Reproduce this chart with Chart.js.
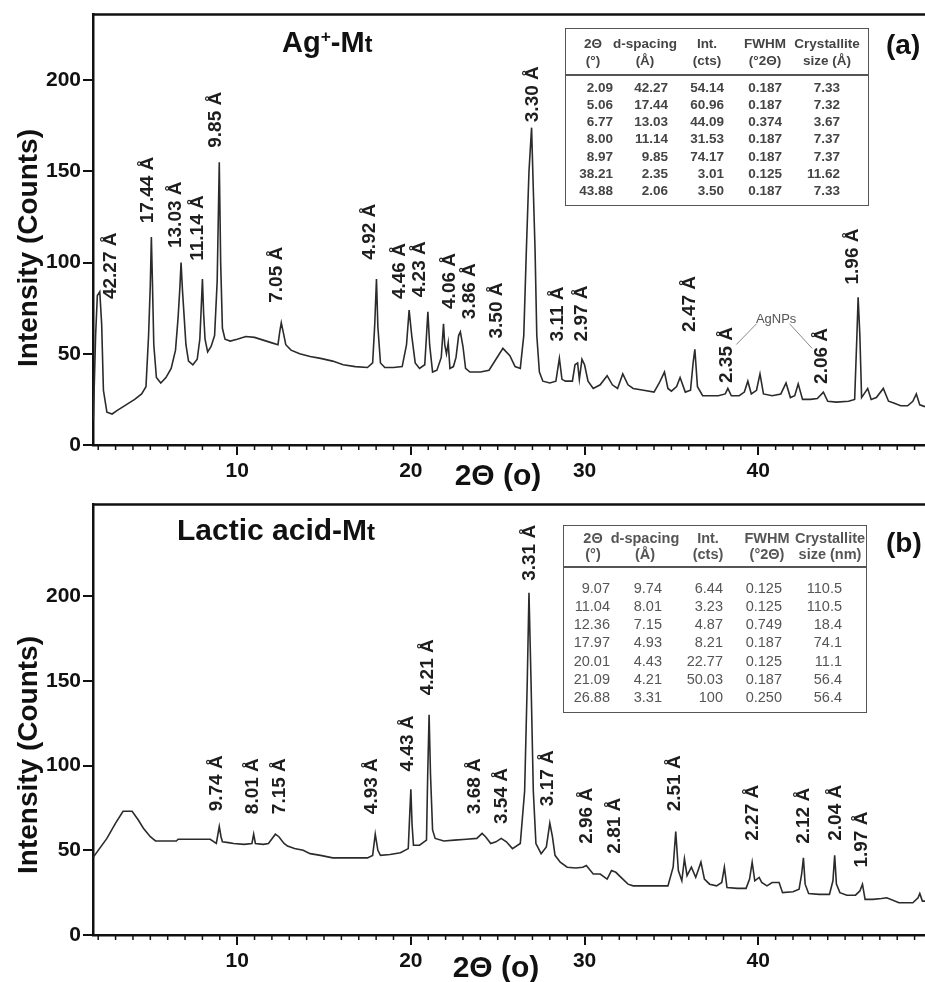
<!DOCTYPE html>
<html>
<head>
<meta charset="utf-8">
<script src="https://cdn.jsdelivr.net/npm/chart.js@4.4.1/dist/chart.umd.min.js"></script>
<style>
  body { margin: 0; background: #fff; font-family: "Liberation Sans", Arial, sans-serif; }
  #wrap { position: relative; width: 925px; height: 982px; overflow: hidden; background: #fff; }
  .panel { position: absolute; left: 0; width: 925px; }
  .txt { position: absolute; white-space: nowrap; color: #111; line-height: 1; }
  .b { font-weight: bold; }
  .box { position: absolute; border: 1.5px solid #555; box-sizing: border-box; }
  .rule { position: absolute; height: 2px; background: #555; }
</style>
</head>
<body>
<div id="wrap">
  <div class="panel" style="top:0;height:490px"><canvas id="chartA" width="925" height="490"></canvas></div>
  <div class="panel" style="top:490px;height:492px"><canvas id="chartB" width="925" height="492"></canvas></div>
</div>
<script>
// pattern (a) Ag+-Mt : 2theta (deg) and counts
const thetaA = [1.72, 1.85, 1.95, 2.09, 2.2, 2.3, 2.5, 2.8, 3.1, 3.6, 4.1, 4.5, 4.75, 4.9, 5.0, 5.06, 5.12, 5.2, 5.35, 5.6,
  5.9, 6.2, 6.45, 6.6, 6.7, 6.77, 6.85, 6.95, 7.05, 7.2, 7.45, 7.7, 7.85, 7.93, 8.0, 8.07, 8.15, 8.3, 8.5, 8.7,
  8.85, 8.97, 9.05, 9.15, 9.3, 9.6, 10.0, 10.5, 11.0, 11.5, 12.0, 12.35, 12.45, 12.54, 12.65, 12.8, 13.1, 13.6, 14.2, 14.8,
  15.5, 16.1, 16.8, 17.5, 17.8, 17.92, 18.02, 18.1, 18.25, 18.5, 19.0, 19.5, 19.75, 19.9, 20.05, 20.25, 20.5, 20.8, 20.9, 20.98,
  21.08, 21.25, 21.5, 21.75, 21.88, 21.95, 22.05, 22.15, 22.25, 22.45, 22.6, 22.75, 22.85, 23.0, 23.15, 23.4, 24.0, 24.5, 24.9, 25.3,
  25.7, 26.0, 26.3, 26.5, 26.65, 26.8, 26.95, 27.05, 27.15, 27.25, 27.4, 27.6, 28.0, 28.35, 28.55, 28.7, 28.9, 29.3, 29.45, 29.6,
  29.7, 29.85, 30.0, 30.2, 30.5, 30.9, 31.3, 31.6, 31.9, 32.2, 32.5, 32.8, 33.4, 34.0, 34.3, 34.6, 34.8, 35.0, 35.3, 35.5,
  35.8, 36.1, 36.25, 36.35, 36.5, 36.8, 37.2, 37.7, 38.1, 38.25, 38.45, 38.9, 39.2, 39.4, 39.6, 39.9, 40.1, 40.3, 40.8, 41.3,
  41.6, 41.85, 42.1, 42.3, 42.55, 43.0, 43.4, 43.75, 44.0, 44.5, 45.2, 45.55, 45.68, 45.75, 45.85, 45.95, 46.3, 46.5, 46.8, 47.2,
  47.5, 47.8, 48.2, 48.6, 48.9, 49.1, 49.3, 49.6];
const countsA = [14, 60, 82, 84, 66, 30, 18, 17, 19, 22, 25, 28, 32, 60, 88, 114, 90, 55, 37, 34,
  37, 42, 52, 70, 86, 100, 85, 70, 55, 46, 44, 47, 58, 75, 91, 72, 58, 51, 54, 60,
  90, 155, 100, 64, 58, 57, 58, 59.5, 59, 57.5, 56, 55, 62, 67, 62, 55, 52, 50, 48.5, 47.5,
  46, 44, 43, 42.5, 45, 66, 91, 65, 45, 42.5, 42.5, 43, 55, 74, 60, 45, 42, 44, 60, 73,
  55, 40, 41, 48, 66.5, 55, 50, 56, 42, 43, 48, 60, 62, 54, 42, 40, 40, 41, 47, 53,
  49, 43, 42, 60, 107, 150, 174, 140, 107, 60, 40, 35, 34, 35, 47.5, 36, 35, 35, 44, 45,
  36, 47, 44, 35, 31, 33, 38, 33, 31, 39, 33, 31, 30, 29, 34, 40, 31, 29.5, 32, 37,
  29, 30, 45, 52.5, 32, 27, 27, 27, 28, 31, 27, 27, 29, 35, 28, 30, 39, 28, 27, 28,
  34, 26, 27, 33.5, 25, 25, 25.5, 29, 24, 23.5, 24, 25, 60, 81, 60, 26, 31, 25, 26, 31,
  24, 23, 21.5, 21.5, 24, 28, 22, 21];

// pattern (b) Lactic acid-Mt
const thetaB = [1.72, 2.5, 3.0, 3.43, 3.95, 4.3, 4.6, 5.0, 5.3, 6.0, 6.5, 6.6, 7.5, 8.45, 8.8, 8.97, 9.07, 9.15, 9.5, 9.8,
  10.4, 10.85, 10.95, 11.05, 11.5, 11.8, 12.2, 12.4, 12.7, 12.9, 13.3, 13.8, 14.2, 14.8, 15.5, 16.5, 17.5, 17.8, 17.95, 18.1,
  18.25, 18.8, 19.4, 19.85, 19.93, 20.0, 20.07, 20.15, 20.5, 20.9, 20.97, 21.05, 21.13, 21.25, 21.4, 21.9, 22.5, 23.2, 23.8, 24.1,
  24.3, 24.6, 24.9, 25.2, 25.5, 25.85, 26.3, 26.55, 26.7, 26.8, 26.92, 27.05, 27.2, 27.5, 27.8, 28.0, 28.15, 28.3, 28.6, 29.0,
  29.5, 29.9, 30.1, 30.5, 30.9, 31.3, 31.55, 31.8, 32.1, 32.5, 32.8, 33.8, 34.8, 35.1, 35.25, 35.4, 35.6, 35.75, 35.9, 36.15,
  36.4, 36.7, 36.9, 37.2, 37.6, 37.9, 38.05, 38.2, 38.8, 39.3, 39.5, 39.65, 39.8, 40.05, 40.2, 40.5, 40.8, 41.2, 41.4, 42.0,
  42.35, 42.5, 42.6, 42.7, 42.9, 43.5, 44.1, 44.3, 44.4, 44.5, 44.7, 45.1, 45.6, 45.85, 46.0, 46.15, 46.6, 47.1, 47.4, 48.1,
  48.9, 49.2, 49.3, 49.45, 49.6];
const countsB = [46, 57, 66, 73, 73, 68, 63, 58, 55.5, 55.5, 55.5, 56.5, 56.5, 56.5, 54, 64, 58, 55, 54.5, 54,
  53.5, 54, 59.5, 54, 53.5, 54, 59.5, 58, 54, 52.5, 51, 50, 48, 47, 45.5, 45.5, 45.5, 47, 59.5, 50,
  47, 47.5, 48.5, 51, 70, 86, 65, 53, 53, 56, 95, 130, 95, 62, 57, 55.5, 56, 56.5, 57, 60,
  58, 54, 55, 57, 55, 51, 54, 85, 149, 202, 149, 85, 54, 48, 52, 66, 58, 47, 43, 40,
  39.5, 40, 41, 36, 36, 33, 38, 37, 34, 30, 29, 29, 29, 40, 61, 38, 32, 45, 35, 40,
  34, 43, 33, 30, 29, 31, 40, 28, 27.5, 27.5, 33, 43, 32, 34, 31, 29, 31, 31, 25, 25.5,
  27, 36, 45.5, 30, 24.5, 24, 24, 32, 47, 30, 25, 23.5, 23.5, 26, 30, 21, 21, 21.5, 22, 19,
  19, 22, 24.5, 20, 20];

// peak labels: text, 2theta, counts at the start of the rotated text
const labelsA = ['42.27 Å', '17.44 Å', '13.03 Å', '11.14 Å', '9.85 Å', '7.05 Å', '4.92 Å', '4.46 Å', '4.23 Å', '4.06 Å',
  '3.86 Å', '3.50 Å', '3.30 Å', '3.11 Å', '2.97 Å', '2.47 Å', '2.35 Å', '2.06 Å', '1.96 Å'];
const labelXA = [2.7, 4.83, 6.44, 7.76, 8.74, 12.3, 17.64, 19.37, 20.5, 22.24, 23.4, 24.94, 27.0, 28.45, 29.83, 36.03, 38.16, 43.68, 45.45];
const labelYA = [80, 121.6, 108, 101, 163, 78, 101.6, 80, 81, 74.6, 69, 58.4, 177, 56.8, 56.8, 62, 34, 33.5, 88];

const labelsB = ['9.74 Å', '8.01 Å', '7.15 Å', '4.93 Å', '4.43 Å', '4.21 Å', '3.68 Å', '3.54 Å', '3.31 Å', '3.17 Å',
  '2.96 Å', '2.81 Å', '2.51 Å', '2.27 Å', '2.12 Å', '2.04 Å', '1.97 Å'];
const labelXB = [8.85, 10.92, 12.47, 17.76, 19.83, 20.98, 23.68, 25.23, 26.84, 27.87, 30.11, 31.72, 35.17, 39.66, 42.64, 44.48, 45.98];
const labelYB = [73, 71.3, 71.3, 71.3, 96.5, 141.5, 71.3, 65.5, 209, 76, 53.8, 48, 73, 55.6, 53.8, 55.6, 39.8];

// inset tables
const tblHead1 = ['2Θ', 'd-spacing', 'Int.', 'FWHM', 'Crystallite'];
const tblHead2A = ['(°)', '(Å)', '(cts)', '(°2Θ)', 'size (Å)'];
const tblHead2B = ['(°)', '(Å)', '(cts)', '(°2Θ)', 'size (nm)'];
const tblThetaA = ['2.09', '5.06', '6.77', '8.00', '8.97', '38.21', '43.88'];
const tblDA = ['42.27', '17.44', '13.03', '11.14', '9.85', '2.35', '2.06'];
const tblIntA = ['54.14', '60.96', '44.09', '31.53', '74.17', '3.01', '3.50'];
const tblFwhmA = ['0.187', '0.187', '0.374', '0.187', '0.187', '0.125', '0.187'];
const tblSizeA = ['7.33', '7.32', '3.67', '7.37', '7.37', '11.62', '7.33'];
const tblThetaB = ['9.07', '11.04', '12.36', '17.97', '20.01', '21.09', '26.88'];
const tblDB = ['9.74', '8.01', '7.15', '4.93', '4.43', '4.21', '3.31'];
const tblIntB = ['6.44', '3.23', '4.87', '8.21', '22.77', '50.03', '100'];
const tblFwhmB = ['0.125', '0.125', '0.749', '0.187', '0.125', '0.187', '0.250'];
const tblSizeB = ['110.5', '110.5', '18.4', '74.1', '11.1', '56.4', '56.4'];

const FONT = '"Liberation Sans", Arial, sans-serif';
const wrap = document.getElementById('wrap');

function addText(html, x, baseline, size, opts = {}) {
  const d = document.createElement('div');
  d.className = 'txt' + (opts.bold ? ' b' : '');
  d.innerHTML = html;
  d.style.fontSize = size + 'px';
  d.style.left = x + 'px';
  d.style.top = (baseline - 0.847 * size) + 'px';
  if (opts.color) d.style.color = opts.color;
  if (opts.align === 'right') d.style.transform = 'translateX(-100%)';
  if (opts.align === 'center') d.style.transform = 'translateX(-50%)';
  wrap.appendChild(d);
}

function addRotated(text, cx, cy, size) {
  const d = document.createElement('div');
  d.className = 'txt b';
  d.textContent = text;
  d.style.fontSize = size + 'px';
  d.style.left = cx + 'px';
  d.style.top = cy + 'px';
  d.style.transform = 'translate(-50%,-50%) rotate(-90deg)';
  wrap.appendChild(d);
}

function addCentered(html, cx, cy, size) {
  const d = document.createElement('div');
  d.className = 'txt b';
  d.innerHTML = html;
  d.style.fontSize = size + 'px';
  d.style.left = cx + 'px';
  d.style.top = cy + 'px';
  d.style.transform = 'translate(-50%,-50%)';
  wrap.appendChild(d);
}

function addTable(t) {
  const box = document.createElement('div');
  box.className = 'box';
  Object.assign(box.style, { left: t.left + 'px', top: t.top + 'px', width: (t.right - t.left) + 'px', height: (t.bottom - t.top) + 'px' });
  wrap.appendChild(box);
  const rule = document.createElement('div');
  rule.className = 'rule';
  Object.assign(rule.style, { left: t.left + 'px', top: t.ruleY + 'px', width: (t.right - t.left) + 'px' });
  wrap.appendChild(rule);
  tblHead1.forEach((h, i) => addText(h, t.headX[i], t.head1Y, t.fs, { bold: true, align: 'center', color: t.color }));
  t.head2.forEach((h, i) => addText(h, t.headX[i], t.head2Y, t.fs, { bold: true, align: 'center', color: t.color }));
  t.cols.forEach((col, c) => col.forEach((v, r) =>
    addText(v, t.colX[c], t.row0 + r * t.rowStep, t.fs, { bold: t.bold, align: 'right', color: t.color })));
}

const peakLabels = {
  id: 'peakLabels',
  afterDatasetsDraw(chart, args, opts) {
    const { ctx, scales: { x, y } } = chart;
    ctx.save();
    ctx.fillStyle = '#1e1e1e';
    ctx.font = 'bold 19px ' + FONT;
    ctx.textAlign = 'left';
    ctx.textBaseline = 'middle';
    opts.texts.forEach((t, i) => {
      ctx.save();
      ctx.translate(x.getPixelForValue(opts.xs[i]), y.getPixelForValue(opts.ys[i]));
      ctx.rotate(-Math.PI / 2);
      ctx.fillText(t, 0, 0);
      ctx.restore();
    });
    if (opts.agnp) {
      const a = opts.agnp;
      ctx.fillStyle = '#555';
      ctx.font = '13px ' + FONT;
      ctx.textAlign = 'center';
      ctx.fillText('AgNPs', x.getPixelForValue(a.text[0]), y.getPixelForValue(a.text[1]));
      ctx.strokeStyle = '#888';
      ctx.lineWidth = 1;
      a.lines.forEach(l => {
        ctx.beginPath();
        ctx.moveTo(x.getPixelForValue(l[0]), y.getPixelForValue(l[1]));
        ctx.lineTo(x.getPixelForValue(l[2]), y.getPixelForValue(l[3]));
        ctx.stroke();
      });
    }
    ctx.restore();
  }
};

// top frame line and 1 degree minor ticks
const frame = {
  id: 'frame',
  afterDraw(chart) {
    const { ctx, chartArea: a, scales: { x } } = chart;
    ctx.save();
    ctx.strokeStyle = '#111';
    ctx.lineWidth = 2.5;
    ctx.beginPath();
    ctx.moveTo(a.left, a.top);
    ctx.lineTo(a.right, a.top);
    ctx.stroke();
    ctx.lineWidth = 1.5;
    for (let v = 2; v < 50; v++) {
      if (v % 10 === 0) continue;
      const px = x.getPixelForValue(v);
      ctx.beginPath();
      ctx.moveTo(px, a.bottom);
      ctx.lineTo(px, a.bottom + 5);
      ctx.stroke();
    }
    ctx.restore();
  }
};

function makeChart(id, xs, ys, yMax, padTop, xHeight, labelOpts) {
  return new Chart(document.getElementById(id).getContext('2d'), {
    type: 'line',
    data: {
      datasets: [{
        data: xs.map((v, i) => ({ x: v, y: ys[i] })),
        borderColor: '#2b2b2b',
        borderWidth: 1.6,
        pointRadius: 0,
        tension: 0
      }]
    },
    options: {
      responsive: false,
      animation: false,
      devicePixelRatio: 1,
      layout: { padding: { top: padTop, left: 0, right: 0, bottom: 0 } },
      plugins: { legend: { display: false }, tooltip: { enabled: false }, peakLabels: labelOpts },
      scales: {
        x: {
          type: 'linear', min: 1.7, max: 49.6,
          afterBuildTicks: s => { s.ticks = s.ticks.filter(t => t.value % 10 === 0); },
          afterFit: s => { s.height = xHeight; },
          ticks: { stepSize: 10, padding: 4, color: '#111', font: { family: FONT, size: 21, weight: 'bold' } },
          grid: { drawOnChartArea: false, tickLength: 10, color: '#111', lineWidth: 2 },
          border: { color: '#111', width: 2.5 }
        },
        y: {
          min: 0, max: yMax,
          afterBuildTicks: s => { s.ticks = s.ticks.filter(t => t.value % 50 === 0); },
          afterFit: s => { s.width = 93; },
          ticks: { stepSize: 50, padding: 2, color: '#111', font: { family: FONT, size: 21, weight: 'bold' } },
          grid: { drawOnChartArea: false, tickLength: 10, color: '#111', lineWidth: 2 },
          border: { color: '#111', width: 2.5 }
        }
      }
    },
    plugins: [peakLabels, frame]
  });
}

makeChart('chartA', thetaA, countsA, 236, 8, 45, {
  texts: labelsA, xs: labelXA, ys: labelYA,
  agnp: { text: [41.03, 69], lines: [[39.9, 66.5, 38.74, 55.1], [41.8, 66.5, 43.1, 53]] }
});
makeChart('chartB', thetaB, countsB, 254, 10, 47, { texts: labelsB, xs: labelXB, ys: labelYB });

// titles and axis names
addText('Ag<sup style="font-size:0.6em;vertical-align:0.55em">+</sup>-M<span style="font-size:0.8em">t</span>', 282, 53, 29, { bold: true });
addText('Lactic acid-M<span style="font-size:0.8em">t</span>', 177, 540, 30, { bold: true });
addText('(a)', 886, 55, 28, { bold: true });
addText('(b)', 886, 553, 28, { bold: true });
addRotated('Intensity (Counts)', 28, 248, 28);
addRotated('Intensity (Counts)', 28, 755, 28);
addCentered('2Θ (o)', 498, 475, 30);
addCentered('2Θ (o)', 496, 967, 30);

addTable({
  left: 565, right: 869, top: 28, bottom: 206, ruleY: 74,
  head1Y: 48, head2Y: 65, headX: [593, 645, 707, 765, 827], head2: tblHead2A,
  colX: [613, 668, 724, 782, 840], row0: 92, rowStep: 17.3, fs: 13.5, bold: true, color: '#444',
  cols: [tblThetaA, tblDA, tblIntA, tblFwhmA, tblSizeA]
});
addTable({
  left: 563, right: 867, top: 525, bottom: 713, ruleY: 566,
  head1Y: 543, head2Y: 559, headX: [593, 645, 708, 767, 830], head2: tblHead2B,
  colX: [610, 662, 723, 782, 842], row0: 593, rowStep: 18.2, fs: 14.5, bold: false, color: '#555',
  cols: [tblThetaB, tblDB, tblIntB, tblFwhmB, tblSizeB]
});
</script>
</body>
</html>
